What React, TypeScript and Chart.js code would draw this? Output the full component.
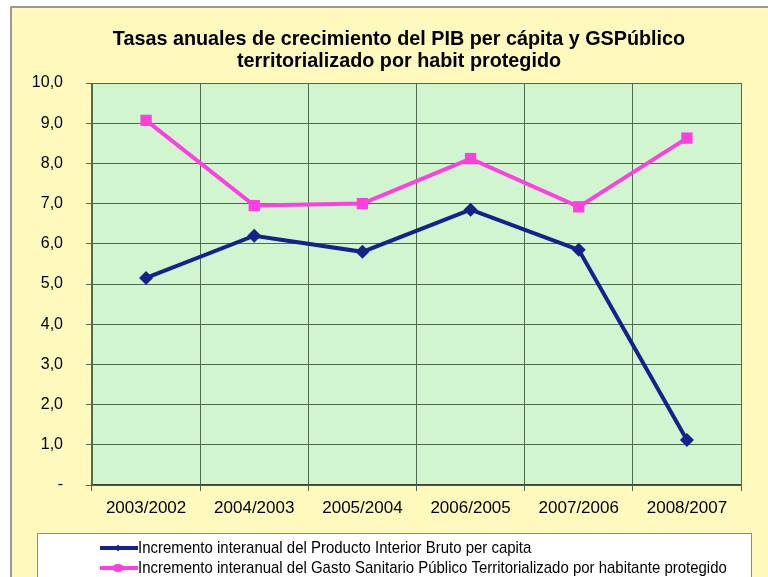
import React, { useEffect, useRef } from 'react';
import { Chart, registerables } from 'chart.js';

Chart.register(...registerables);

const categories = ['2003/2002', '2004/2003', '2005/2004', '2006/2005', '2007/2006', '2008/2007'];
const pibValues = [5.15, 6.2, 5.8, 6.85, 5.85, 1.12];
const gastoValues = [9.07, 6.95, 7.0, 8.12, 6.92, 8.63];
const titleLines = [
  'Tasas anuales de crecimiento del PIB per cápita y GSPúblico',
  'territorializado por habit protegido',
];
const seriesLabels = [
  'Incremento interanual del Producto Interior Bruto per capita',
  'Incremento interanual del Gasto Sanitario Público Territorializado por habitante protegido',
];

const FONT = '"Liberation Sans", Arial, sans-serif';
const BLUE = '#14238c';
const PINK = '#ff3fe0';

const decorPlugin = {
  id: 'decor',
  beforeDraw(chart: any) {
    const { ctx, chartArea, width, height } = chart;
    ctx.save();
    ctx.fillStyle = '#ffffff';
    ctx.fillRect(0, 0, width, height);
    ctx.fillStyle = '#fff9be';
    ctx.fillRect(11, 7, width - 11, height - 7);
    ctx.strokeStyle = '#9a9a9a';
    ctx.lineWidth = 2;
    ctx.strokeRect(11, 7, width + 10, height + 10);
    ctx.fillStyle = '#d0f5cf';
    ctx.fillRect(chartArea.left, chartArea.top, chartArea.right - chartArea.left, chartArea.bottom - chartArea.top);
    // title
    ctx.fillStyle = '#000000';
    ctx.font = 'bold 19.8px ' + FONT;
    ctx.textAlign = 'center';
    ctx.textBaseline = 'middle';
    ctx.fillText(titleLines[0], 399, 40);
    ctx.fillText(titleLines[1], 399, 62);
    ctx.restore();
  },
  afterDraw(chart: any) {
    const { ctx } = chart;
    ctx.save();
    ctx.fillStyle = '#ffffff';
    ctx.fillRect(37, 533, 714, 60);
    ctx.strokeStyle = '#8a8a8a';
    ctx.lineWidth = 1;
    ctx.strokeRect(37.5, 533.5, 714, 60);
    const items = [
      { label: seriesLabels[0], color: BLUE, y: 548, shape: 'diamond' },
      { label: seriesLabels[1], color: PINK, y: 568, shape: 'oval' },
    ];
    items.forEach((it) => {
      ctx.strokeStyle = it.color;
      ctx.lineWidth = 4;
      ctx.beginPath();
      ctx.moveTo(100, it.y);
      ctx.lineTo(138, it.y);
      ctx.stroke();
      ctx.fillStyle = it.color;
      if (it.shape === 'diamond') {
        ctx.beginPath();
        ctx.moveTo(118, it.y - 3.5);
        ctx.lineTo(121, it.y);
        ctx.lineTo(118, it.y + 3.5);
        ctx.lineTo(115, it.y);
        ctx.closePath();
        ctx.fill();
      } else {
        ctx.beginPath();
        ctx.ellipse(118, it.y, 6, 4, 0, 0, Math.PI * 2);
        ctx.fill();
      }
      ctx.save();
      ctx.translate(138, it.y);
      ctx.scale(0.88, 1);
      ctx.fillStyle = '#000000';
      ctx.font = '17px ' + FONT;
      ctx.textAlign = 'left';
      ctx.textBaseline = 'middle';
      ctx.fillText(it.label, 0, 0);
      ctx.restore();
    });
    ctx.restore();
  },
};

export default function App() {
  const ref = useRef<HTMLCanvasElement>(null);
  useEffect(() => {
    if (!ref.current) return;
    const chart = new Chart(ref.current, {
      type: 'line',
      data: {
        labels: categories,
        datasets: [
          {
            label: seriesLabels[0],
            data: pibValues,
            borderColor: BLUE,
            backgroundColor: BLUE,
            borderWidth: 4,
            pointStyle: 'rectRot',
            pointRadius: 7,
            pointBorderWidth: 0,
            tension: 0,
          },
          {
            label: seriesLabels[1],
            data: gastoValues,
            borderColor: PINK,
            backgroundColor: PINK,
            borderWidth: 4,
            pointStyle: 'rect',
            pointRadius: 8,
            pointBorderWidth: 0,
            tension: 0,
          },
        ],
      },
      options: {
        responsive: false,
        animation: false,
        layout: { padding: { top: 83, left: 10, right: 27, bottom: 44 } },
        plugins: {
          legend: { display: false },
          title: { display: false },
          tooltip: { enabled: false },
        },
        scales: {
          x: {
            offset: true,
            grid: { offset: true, color: '#4f6a4f', lineWidth: 1, tickLength: 6, drawTicks: true },
            border: { color: '#3c4a3c', width: 1.5 },
            ticks: { color: '#000000', font: { family: FONT, size: 17 }, padding: 7, maxRotation: 0 },
            afterFit(scale: any) { scale.height = 48; },
          },
          y: {
            min: 0,
            max: 10,
            ticks: {
              stepSize: 1,
              color: '#000000',
              font: { family: FONT, size: 16 },
              padding: 23,
              callback: (v: any) => (Number(v) === 0 ? '-' : Number(v).toFixed(1).replace('.', ',')),
            },
            grid: { color: '#4f6a4f', lineWidth: 1, tickLength: 6 },
            border: { color: '#4f6a4f', width: 1 },
            afterFit(scale: any) { scale.width = 82; },
          },
        },
      },
      plugins: [decorPlugin],
    });
    return () => chart.destroy();
  }, []);
  return (
    <div style={{ position: 'fixed', left: 0, top: 0, width: 768, height: 577 }}>
      <canvas ref={ref} width={768} height={577} style={{ display: 'block', width: 768, height: 577 }} />
    </div>
  );
}
